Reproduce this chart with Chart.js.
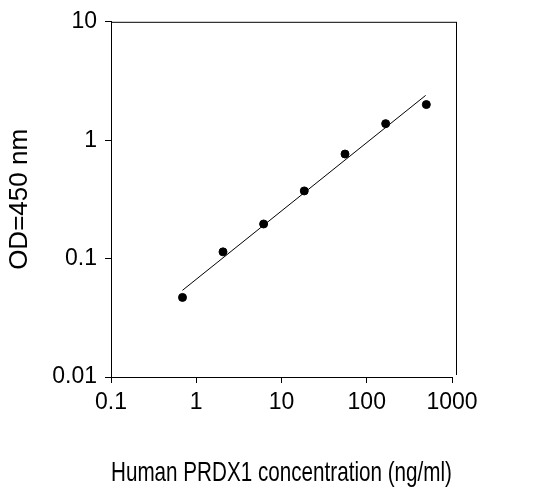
<!DOCTYPE html>
<html>
<head>
<meta charset="utf-8">
<script src="https://cdn.jsdelivr.net/npm/chart.js@4/dist/chart.umd.min.js"></script>
<style>
  html, body { margin: 0; padding: 0; background: #fff; }
  #wrap { width: 550px; height: 494px; }
</style>
</head>
<body>
<div id="wrap"><canvas id="chart"></canvas></div>
<script>
// Standard curve data
const concentrations = [0.69, 2.06, 6.17, 18.5, 55.6, 166.7, 500];
const odValues = [0.047, 0.114, 0.196, 0.373, 0.764, 1.38, 2.0];
const fitX = [0.69, 491];
const fitY = [0.054, 2.39];
const xTicks = [0.1, 1, 10, 100, 1000];
const yTicks = [0.01, 0.1, 1, 10];

const font = { family: 'Liberation Sans, Arial, sans-serif', size: 23 };

// Draws the top and right sides of the frame
const framePlugin = {
    id: 'frame',
    afterDraw(chart) {
        const { ctx, chartArea: a } = chart;
        ctx.save();
        ctx.strokeStyle = '#000';
        ctx.lineWidth = 1;
        ctx.beginPath();
        ctx.moveTo(a.left, a.top + 0.5);
        ctx.lineTo(a.right + 4, a.top + 0.5);
        ctx.moveTo(a.right + 4.5, a.top);
        ctx.lineTo(a.right + 4.5, a.bottom - 2);
        ctx.stroke();
        ctx.restore();
    }
};

new Chart(document.getElementById('chart'), {
    type: 'scatter',
    data: {
        datasets: [
            {
                data: concentrations.map((x, i) => ({ x: x, y: odValues[i] })),
                backgroundColor: '#000',
                borderColor: '#000',
                pointRadius: 4,
                showLine: false
            },
            {
                data: fitX.map((x, i) => ({ x: x, y: fitY[i] })),
                borderColor: '#000',
                borderWidth: 1,
                pointRadius: 0,
                showLine: true
            }
        ]
    },
    options: {
        responsive: true,
        maintainAspectRatio: false,
        animation: false,
        layout: { padding: { top: 2, right: 98, left: 0, bottom: 0 } },
        plugins: { legend: { display: false }, tooltip: { enabled: false } },
        scales: {
            x: {
                type: 'logarithmic',
                min: 0.1,
                max: 1000,
                afterBuildTicks: s => { s.ticks = xTicks.map(v => ({ value: v })); },
                afterFit: s => { s.height = 117; },
                ticks: { color: '#000', font: font, padding: 6, maxRotation: 0, callback: v => String(v) },
                grid: { display: true, drawOnChartArea: false, tickLength: 6, color: '#000' },
                border: { display: true, color: '#000' },
                title: { display: true, text: 'Human PRDX1 concentration (ng/ml)', color: '#000',
                         font: { family: font.family, size: 28 }, padding: { top: 22 } }
            },
            y: {
                type: 'logarithmic',
                min: 0.01,
                max: 10,
                afterBuildTicks: s => { s.ticks = yTicks.map(v => ({ value: v })); },
                afterFit: s => { s.width = 111; },
                ticks: { color: '#000', font: font, padding: 8, callback: v => String(v) },
                grid: { display: true, drawOnChartArea: false, tickLength: 6, color: '#000' },
                border: { display: true, color: '#000' },
                title: { display: true, text: 'OD=450 nm', color: '#000',
                         font: { family: font.family, size: 26 }, padding: { bottom: 2 } }
            }
        }
    },
    plugins: [framePlugin]
});
</script>
</body>
</html>
